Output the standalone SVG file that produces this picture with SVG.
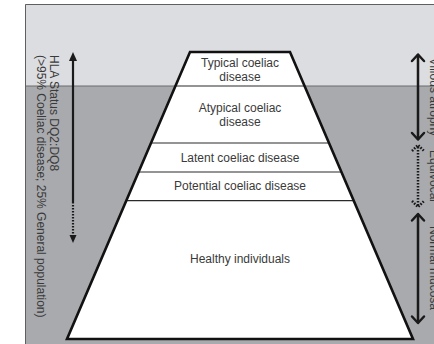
<svg xmlns="http://www.w3.org/2000/svg" width="434" height="344" viewBox="0 0 434 344">
<style>
.lbl{font-family:"Liberation Sans",Arial,sans-serif;font-size:12px;fill:#3a3a3a}
.mid{text-anchor:middle}
.band{fill:#ffffff;stroke:none}
.div{stroke:#2a2a2a;stroke-width:1.2;fill:none}
.arr{stroke:#1a1a1a;stroke-width:2.2;fill:none}
.chev{stroke:#1a1a1a;stroke-width:2.5;fill:none;stroke-linecap:round;stroke-linejoin:round}
.dot{stroke-dasharray:1.6 1.4;stroke-linecap:butt}
</style>
<rect x="0" y="0" width="434" height="344" fill="#ffffff"/>
<rect x="25" y="4" width="409" height="82" fill="#dcdde0"/>
<rect x="25" y="86" width="409" height="258" fill="#a9aaad"/>
<line x1="25" y1="86" x2="434" y2="86" stroke="#6a6a6a" stroke-width="1"/>
<path d="M25.5 344 V4.5 H434" fill="none" stroke="#5f5f5f" stroke-width="1"/>

<g id="typical">
<polygon class="band" points="190,52 290,52 304.6,86 175.4,86"/>
<text class="lbl mid" x="240" y="67">Typical coeliac</text>
<text class="lbl mid" x="240" y="80.5">disease</text>
</g>
<g id="atypical">
<polygon class="band" points="175.4,86 304.6,86 329,143 151,143"/>
<text class="lbl mid" x="240" y="112">Atypical coeliac</text>
<text class="lbl mid" x="240" y="125.5">disease</text>
</g>
<g id="latent">
<polygon class="band" points="151,143 329,143 341.4,172 138.6,172"/>
<text class="lbl mid" x="240" y="161.5">Latent coeliac disease</text>
</g>
<g id="potential">
<polygon class="band" points="138.6,172 341.4,172 353.7,200.7 126.3,200.7"/>
<text class="lbl mid" x="240" y="190">Potential coeliac disease</text>
</g>
<g id="healthy">
<polygon class="band" points="126.3,200.7 353.7,200.7 413,339 67,339"/>
<text class="lbl mid" x="240" y="263">Healthy individuals</text>
</g>
<g id="dividers">
<line class="div" x1="175.4" y1="86" x2="304.6" y2="86"/>
<line class="div" x1="151" y1="143" x2="329" y2="143"/>
<line class="div" x1="138.6" y1="172" x2="341.4" y2="172"/>
<line class="div" x1="126.3" y1="200.7" x2="353.7" y2="200.7"/>
</g>
<g id="pyramid-outline">
<polygon points="190,52 290,52 413,339 67,339" fill="none" stroke="#111" stroke-width="2.6" stroke-linejoin="miter"/>
</g>

<g id="hla-label">
<text class="lbl" transform="translate(50,55) rotate(90)">HLA Status DQ2:DQ8</text>
<text class="lbl" transform="translate(36.5,55) rotate(90)">(&gt;95% Coeliac disease; 25% General population)</text>
</g>
<g id="right-labels">
<text class="lbl mid" transform="translate(430,97) rotate(90)">Villous atrophy</text>
<text class="lbl mid" transform="translate(430,176) rotate(90)">Equivocal</text>
<text class="lbl mid" transform="translate(430,268) rotate(90)">Normal mucosa</text>
</g>

<g id="connectors">
<line class="arr" x1="73" y1="60" x2="73" y2="202"/>
<polygon points="73,52 69,61 77,61" fill="#1a1a1a"/>
<line class="arr dot" x1="73" y1="202" x2="73" y2="236"/>
<polygon points="73,243 69.5,235 76.5,235" fill="#1a1a1a"/>

<line class="chev" x1="418" y1="55" x2="418" y2="139"/>
<path class="chev" d="M412 61 L418 54.5 L424 61 M412 133 L418 139.5 L424 133"/>

<line class="chev dot" x1="418" y1="147" x2="418" y2="205"/>
<path class="chev dot" d="M412 151 L418 145 L424 151 M412 201 L418 207 L424 201"/>

<line class="chev" x1="418" y1="215" x2="418" y2="322"/>
<path class="chev" d="M412 220.5 L418 214 L424 220.5 M412 316.5 L418 323 L424 316.5"/>
</g>
</svg>
